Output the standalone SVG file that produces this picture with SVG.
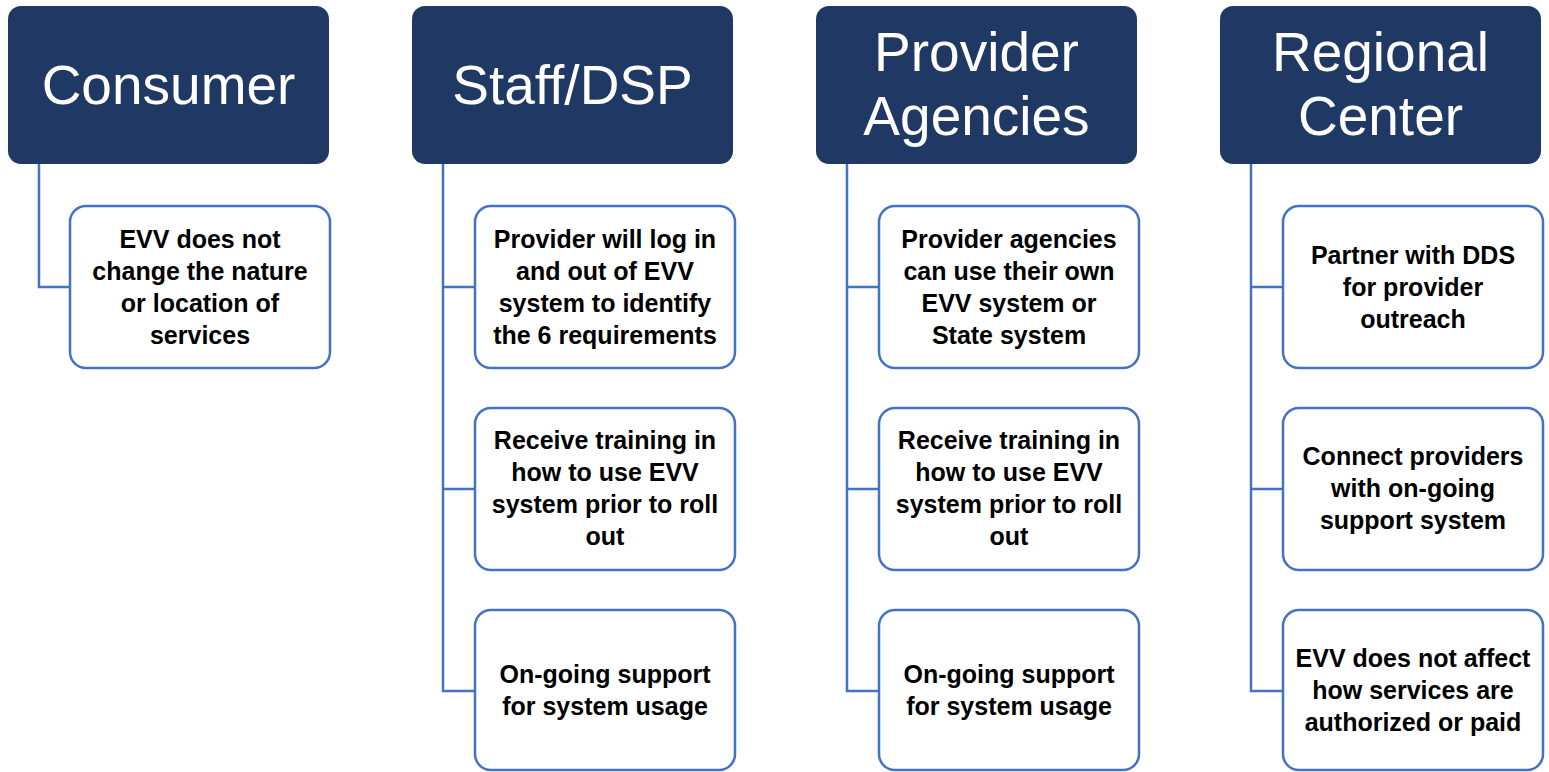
<svg xmlns="http://www.w3.org/2000/svg" width="1549" height="772" viewBox="0 0 1549 772">
<style>
.hdr{fill:#203864}
.ht{fill:#fff;font-family:"Liberation Sans",Arial,sans-serif;font-size:55px;text-anchor:middle}
.box{fill:#fff;stroke:#4472C4;stroke-width:2.5}
.bt{fill:#000;font-family:"Liberation Sans",Arial,sans-serif;font-size:25px;font-weight:bold;text-anchor:middle}
.con{fill:none;stroke:#4472C4;stroke-width:2.5}
</style>
<rect width="1549" height="772" fill="#fff"/>
<g id="connectors">
<path class="con" d="M39 164V287H70"/>
<path class="con" d="M443 164V691H475M443 287H475M443 489H475"/>
<path class="con" d="M847 164V691H879M847 287H879M847 489H879"/>
<path class="con" d="M1251 164V691H1283M1251 287H1283M1251 489H1283"/>
</g>
<g id="consumer">
<rect class="hdr" x="8" y="6" width="321" height="158" rx="13"/>
<text class="ht" x="168.5" y="104">Consumer</text>
</g>
<g id="staff">
<rect class="hdr" x="412" y="6" width="321" height="158" rx="13"/>
<text class="ht" x="572.5" y="104">Staff/DSP</text>
</g>
<g id="provider">
<rect class="hdr" x="816" y="6" width="321" height="158" rx="13"/>
<text class="ht" x="976.5" y="71">Provider</text>
<text class="ht" x="976.5" y="135">Agencies</text>
</g>
<g id="regional">
<rect class="hdr" x="1220" y="6" width="321" height="158" rx="13"/>
<text class="ht" x="1380.5" y="71">Regional</text>
<text class="ht" x="1380.5" y="135">Center</text>
</g>
<g id="consumer-1">
<rect class="box" x="70" y="206" width="260" height="162" rx="16"/>
<text class="bt" x="200" y="248">EVV does not</text>
<text class="bt" x="200" y="280">change the nature</text>
<text class="bt" x="200" y="312">or location of</text>
<text class="bt" x="200" y="344">services</text>
</g>
<g id="staff-1">
<rect class="box" x="475" y="206" width="260" height="162" rx="16"/>
<text class="bt" x="605" y="248">Provider will log in</text>
<text class="bt" x="605" y="280">and out of EVV</text>
<text class="bt" x="605" y="312">system to identify</text>
<text class="bt" x="605" y="344">the 6 requirements</text>
</g>
<g id="staff-2">
<rect class="box" x="475" y="408" width="260" height="162" rx="16"/>
<text class="bt" x="605" y="449">Receive training in</text>
<text class="bt" x="605" y="481">how to use EVV</text>
<text class="bt" x="605" y="513">system prior to roll</text>
<text class="bt" x="605" y="545">out</text>
</g>
<g id="staff-3">
<rect class="box" x="475" y="610" width="260" height="160" rx="16"/>
<text class="bt" x="605" y="683">On-going support</text>
<text class="bt" x="605" y="715">for system usage</text>
</g>
<g id="provider-1">
<rect class="box" x="879" y="206" width="260" height="162" rx="16"/>
<text class="bt" x="1009" y="248">Provider agencies</text>
<text class="bt" x="1009" y="280">can use their own</text>
<text class="bt" x="1009" y="312">EVV system or</text>
<text class="bt" x="1009" y="344">State system</text>
</g>
<g id="provider-2">
<rect class="box" x="879" y="408" width="260" height="162" rx="16"/>
<text class="bt" x="1009" y="449">Receive training in</text>
<text class="bt" x="1009" y="481">how to use EVV</text>
<text class="bt" x="1009" y="513">system prior to roll</text>
<text class="bt" x="1009" y="545">out</text>
</g>
<g id="provider-3">
<rect class="box" x="879" y="610" width="260" height="160" rx="16"/>
<text class="bt" x="1009" y="683">On-going support</text>
<text class="bt" x="1009" y="715">for system usage</text>
</g>
<g id="regional-1">
<rect class="box" x="1283" y="206" width="260" height="162" rx="16"/>
<text class="bt" x="1413" y="264">Partner with DDS</text>
<text class="bt" x="1413" y="296">for provider</text>
<text class="bt" x="1413" y="328">outreach</text>
</g>
<g id="regional-2">
<rect class="box" x="1283" y="408" width="260" height="162" rx="16"/>
<text class="bt" x="1413" y="465">Connect providers</text>
<text class="bt" x="1413" y="497">with on-going</text>
<text class="bt" x="1413" y="529">support system</text>
</g>
<g id="regional-3">
<rect class="box" x="1283" y="610" width="260" height="160" rx="16"/>
<text class="bt" x="1413" y="667">EVV does not affect</text>
<text class="bt" x="1413" y="699">how services are</text>
<text class="bt" x="1413" y="731">authorized or paid</text>
</g>
</svg>
